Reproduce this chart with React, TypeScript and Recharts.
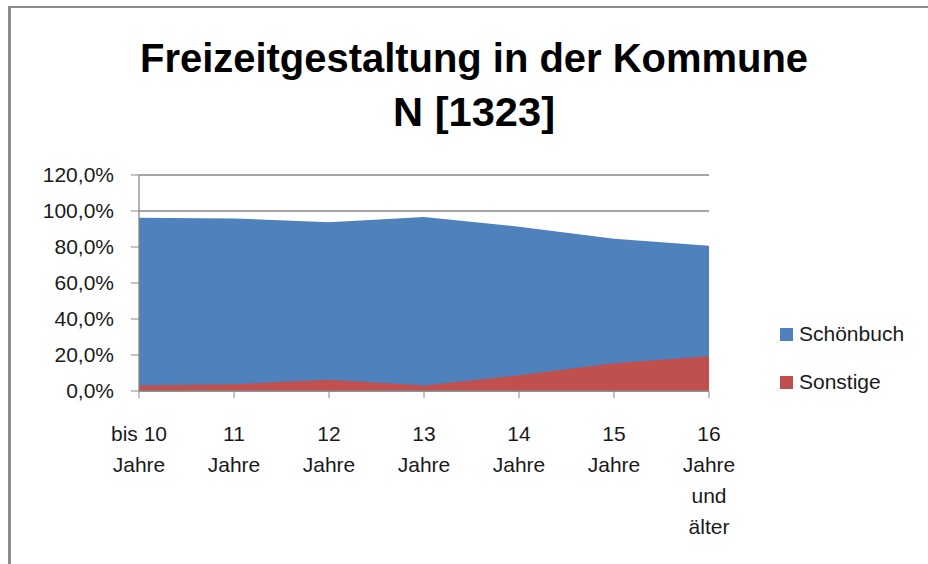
import React from "react";
import { AreaChart, Area, XAxis, YAxis, CartesianGrid } from "recharts";

const categories = [
  "bis 10\nJahre",
  "11\nJahre",
  "12\nJahre",
  "13\nJahre",
  "14\nJahre",
  "15\nJahre",
  "16\nJahre\nund\nälter",
];
const schoenbuch = [96.3, 95.9, 93.7, 96.7, 91.3, 84.6, 80.7];
const sonstige = [3.1, 3.7, 6.3, 3.1, 8.7, 15.4, 19.3];
const yTicks = [0, 20, 40, 60, 80, 100, 120];
const titleLines = ["Freizeitgestaltung in der Kommune", "N [1323]"];
const seriesNames = ["Schönbuch", "Sonstige"];
const colors = ["#4F81BD", "#C0504D"];

const data = categories.map((c, i) => ({
  cat: c,
  schoenbuch: schoenbuch[i],
  sonstige: sonstige[i],
}));

const FONT = "'Liberation Sans', Arial, sans-serif";
const TEXT = "#1a1a1a";
const AXIS = "#888888";

const XTick = (props: any) => {
  const { x, y, payload } = props;
  const lines = String(payload.value).split("\n");
  return (
    <text x={x} y={y} textAnchor="middle" fontFamily={FONT} fontSize={21} fill={TEXT}>
      {lines.map((l, i) => (
        <tspan key={i} x={x} y={y + 41 + i * 31}>
          {l}
        </tspan>
      ))}
    </text>
  );
};

const LegendBox = () => (
  <div
    style={{
      position: "absolute",
      left: 780,
      top: 310,
      fontFamily: FONT,
      fontSize: 21,
      color: TEXT,
    }}
  >
    {seriesNames.map((n, i) => (
      <div key={n} style={{ display: "flex", alignItems: "center", height: 48 }}>
        <span
          style={{
            display: "inline-block",
            width: 13,
            height: 13,
            background: colors[i],
            marginRight: 6,
          }}
        />
        <span>{n}</span>
      </div>
    ))}
  </div>
);

export default function App() {
  return (
    <div style={{ position: "absolute", left: 0, top: 0, width: 928, height: 564, background: "#fff" }}>
      <div
        style={{
          position: "absolute",
          left: 8,
          top: 6,
          width: 930,
          height: 570,
          borderLeft: "3px solid #8c8c8c",
          borderTop: "2px solid #8c8c8c",
          boxSizing: "border-box",
        }}
      />
      <svg width={928} height={150} style={{ position: "absolute", left: 0, top: 0 }}>
        <text
          x={474}
          y={72}
          textAnchor="middle"
          fontFamily={FONT}
          fontWeight="bold"
          fontSize={40}
          fill="#000"
          textLength={668}
          lengthAdjust="spacingAndGlyphs"
        >
          {titleLines[0]}
        </text>
        <text
          x={474}
          y={126}
          textAnchor="middle"
          fontFamily={FONT}
          fontWeight="bold"
          fontSize={40}
          fill="#000"
          textLength={162}
          lengthAdjust="spacingAndGlyphs"
        >
          {titleLines[1]}
        </text>
      </svg>
      <div style={{ position: "absolute", left: 0, top: 0 }}>
        <AreaChart
          width={928}
          height={564}
          data={data}
          margin={{ top: 175, right: 219, bottom: 0, left: 0 }}
        >
          <CartesianGrid vertical={false} stroke={AXIS} strokeWidth={1.3} />
          <XAxis
            dataKey="cat"
            height={173}
            tickLine={{ stroke: AXIS }}
            axisLine={{ stroke: AXIS, strokeWidth: 1.3 }}
            tickSize={7}
            tick={<XTick />}
            interval={0}
          />
          <YAxis
            width={139}
            domain={[0, 120]}
            ticks={yTicks}
            interval={0}
            tickSize={8}
            tickMargin={17}
            tickLine={{ stroke: AXIS }}
            axisLine={{ stroke: AXIS, strokeWidth: 1.3 }}
            tick={{ fontFamily: FONT, fontSize: 21, fill: TEXT }}
            tickFormatter={(v: number) => v.toFixed(1).replace(".", ",") + "%"}
          />
          <Area
            type="linear"
            dataKey="schoenbuch"
            name={seriesNames[0]}
            fill={colors[0]}
            fillOpacity={1}
            stroke="none"
            isAnimationActive={false}
          />
          <Area
            type="linear"
            dataKey="sonstige"
            name={seriesNames[1]}
            fill={colors[1]}
            fillOpacity={1}
            stroke="none"
            isAnimationActive={false}
          />
        </AreaChart>
      </div>
      <LegendBox />
    </div>
  );
}
